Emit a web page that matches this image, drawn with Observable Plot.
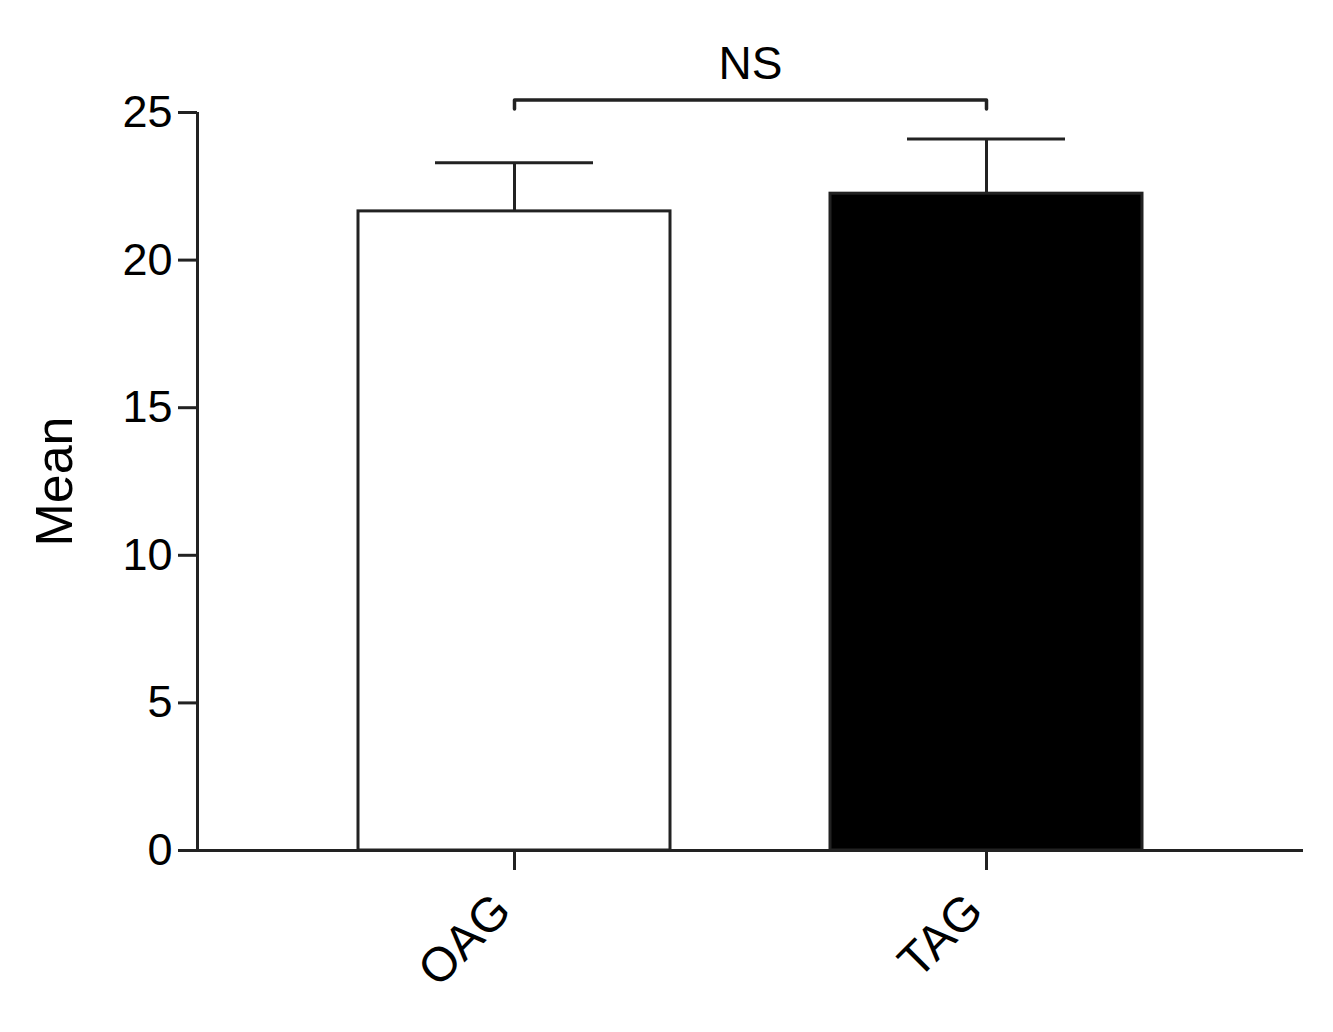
<!DOCTYPE html>
<html><head><meta charset="utf-8">
<script src="https://cdn.jsdelivr.net/npm/d3@7"></script>
<script src="https://cdn.jsdelivr.net/npm/@observablehq/plot@0.6"></script>
<style>body{margin:0;background:#fff}</style>
</head><body><div id="chart"></div>
<script>
const groups = ["OAG", "TAG"];
const means = [21.65, 22.25];
const errors = [1.65, 1.85];
const yTicks = [0, 5, 10, 15, 20, 25];
const yLabel = "Mean";
const sigLabel = "NS";
const bracketLevel = 25.42;
const bracketDrop = 0.3;
const sigLabelLevel = 26.65;

const data = groups.map((g, i) => ({group: g, mean: means[i], top: means[i] + errors[i]}));
const bracket = [
  {x: groups[0], y: bracketLevel - bracketDrop},
  {x: groups[0], y: bracketLevel},
  {x: groups[1], y: bracketLevel},
  {x: groups[1], y: bracketLevel - bracketDrop}
];
const font = "'Liberation Sans', Arial, Helvetica, sans-serif";
const ink = "#222";

const chart = Plot.plot({
  width: 1333,
  height: 1032,
  marginLeft: 197,
  marginRight: 30,
  marginTop: 112,
  marginBottom: 182,
  style: {fontFamily: font, color: "#000", background: "#fff"},
  x: {domain: groups, padding: 0.34, label: null},
  y: {domain: [0, 25], label: null},
  marks: [
    Plot.barY(data, {x: "group", y: "mean", fill: d => d.group === groups[0] ? "#fff" : "#000", stroke: ink, strokeWidth: 3}),
    Plot.ruleX(data, {x: "group", y1: "mean", y2: "top", stroke: ink, strokeWidth: 3}),
    Plot.tickY(data, {x: "group", y: "top", stroke: ink, strokeWidth: 3, insetLeft: 77, insetRight: 77}),
    Plot.line(bracket, {x: "x", y: "y", stroke: ink, strokeWidth: 3.5, curve: "linear"}),
    Plot.text([sigLabel], {frameAnchor: "middle", y: () => sigLabelLevel, text: d => d, fontSize: 46, fill: "#000"}),
    Plot.ruleY([0], {stroke: ink, strokeWidth: 3}),
    Plot.ruleX([0], {x: null, y1: 0, y2: 25, dx: -553, stroke: ink, strokeWidth: 3}),
    Plot.axisY({ticks: yTicks, tickSize: 19, tickPadding: 6, fontSize: 45, strokeWidth: 3, stroke: ink, fill: "#000", label: null}),
    Plot.axisX({tickSize: 20, tickFormat: () => "", strokeWidth: 3, stroke: ink, label: null}),
    Plot.axisX({tickSize: 0, tickPadding: 52, tickRotate: -45, dx: -12, fontSize: 48, fill: "#000", label: null}),
    Plot.text([yLabel], {frameAnchor: "left", dx: -142, rotate: -90, textAnchor: "middle", text: d => d, fontSize: 52, fill: "#000"})
  ]
});
document.getElementById("chart").appendChild(chart);
</script>
</body></html>
